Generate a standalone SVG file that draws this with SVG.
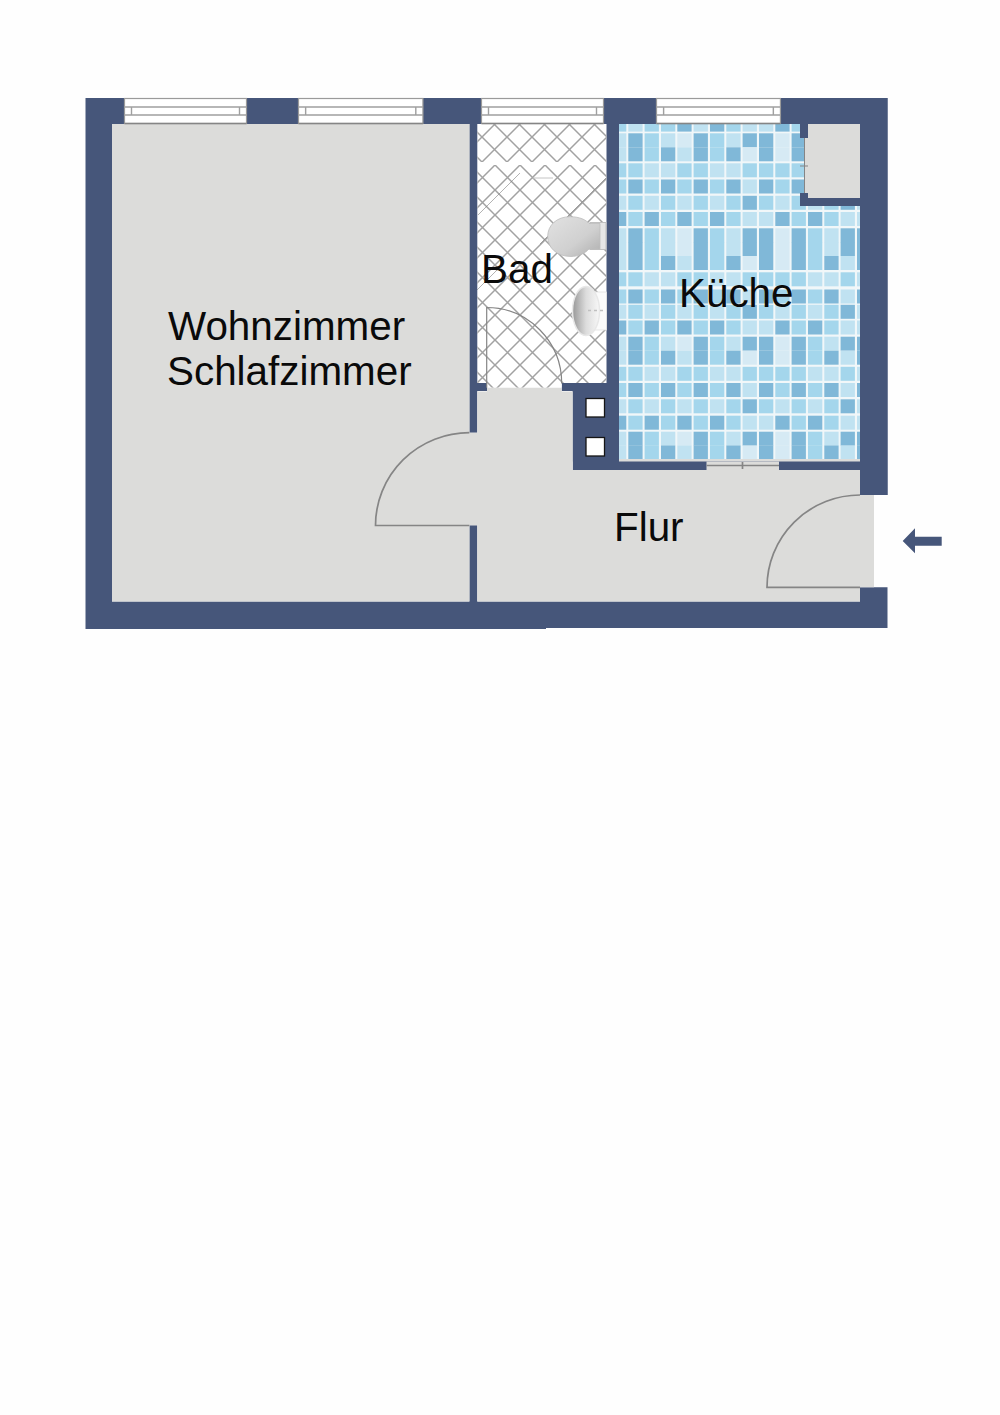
<svg xmlns="http://www.w3.org/2000/svg" width="1000" height="1415" viewBox="0 0 1000 1415">
<style>
.w{fill:#46567a}
.f{fill:#dcdcda}
.door{fill:none;stroke:#858585;stroke-width:1.7}
.win{fill:#fff;stroke:#9a9a9a;stroke-width:1.2}
.wl{fill:none;stroke:#a0a0a0;stroke-width:1.4}
.lab{font-family:"Liberation Sans",Arial,sans-serif;font-size:40.4px;fill:#0a0a0a}
.D{fill:#80b8d8}.M{fill:#a4d6ec}.L{fill:#c0e2f1}.P{fill:#d6eaf4}
</style>
<defs>
<filter id="soft" x="0" y="0" width="1" height="1"><feGaussianBlur stdDeviation="0.45"/></filter>
<pattern id="ta" patternUnits="userSpaceOnUse" x="532" y="137" width="25" height="25"><path d="M0 0L25 25M25 0L0 25" fill="none" stroke="#a2a2a2" stroke-width="1.5"/></pattern>
<pattern id="tb" patternUnits="userSpaceOnUse" x="520" y="165" width="25" height="25"><path d="M0 0L25 25M25 0L0 25" fill="none" stroke="#a2a2a2" stroke-width="1.5"/></pattern>
<linearGradient id="bowl" x1="0" y1="0" x2="1" y2="1"><stop offset="0" stop-color="#e2e2e2"/><stop offset=".6" stop-color="#d0d0d0"/><stop offset="1" stop-color="#aeaeae"/></linearGradient>
<linearGradient id="basin" x1="0" y1="0" x2="1" y2="0"><stop offset="0" stop-color="#989898"/><stop offset=".5" stop-color="#dcdcdc"/><stop offset="1" stop-color="#f8f8f8"/></linearGradient>
<clipPath id="kc"><path d="M619 124H800V138H805V193H800V206H860V459H619Z"/></clipPath>
<g id="win"><rect class="win" x="0" y="0.5" width="122" height="25"/><path class="wl" d="M0 9H122M0 17H122M7 9V17M115 9V17"/><path d="M0 25.5H122" stroke="#858585" stroke-width="1.4"/></g>
<g id="rA"><rect class="L" x="612" width="14.3" height="14"/><rect class="D" x="628.3" width="14.3" height="14"/><rect class="M" x="644.6" width="14.3" height="14"/><rect class="L" x="661" width="14.3" height="14"/><rect class="P" x="677.3" width="14.3" height="14"/><rect class="D" x="693.6" width="14.3" height="14"/><rect class="M" x="710" width="14.3" height="14"/><rect class="L" x="726.3" width="14.3" height="14"/><rect class="D" x="742.6" width="14.3" height="14"/><rect class="D" x="759" width="14.3" height="14"/><rect class="P" x="775.3" width="14.3" height="14"/><rect class="D" x="791.6" width="14.3" height="14"/><rect class="M" x="808" width="14.3" height="14"/><rect class="L" x="824.3" width="14.3" height="14"/><rect class="D" x="840.6" width="14.3" height="14"/><rect class="D" x="857" width="14.3" height="14"/></g>
<g id="rB"><rect class="L" x="612" width="14.3" height="14"/><rect class="D" x="628.3" width="14.3" height="14"/><rect class="M" x="644.6" width="14.3" height="14"/><rect class="D" x="661" width="14.3" height="14"/><rect class="L" x="677.3" width="14.3" height="14"/><rect class="D" x="693.6" width="14.3" height="14"/><rect class="M" x="710" width="14.3" height="14"/><rect class="D" x="726.3" width="14.3" height="14"/><rect class="P" x="742.6" width="14.3" height="14"/><rect class="D" x="759" width="14.3" height="14"/><rect class="P" x="775.3" width="14.3" height="14"/><rect class="D" x="791.6" width="14.3" height="14"/><rect class="M" x="808" width="14.3" height="14"/><rect class="D" x="824.3" width="14.3" height="14"/><rect class="L" x="840.6" width="14.3" height="14"/><rect class="D" x="857" width="14.3" height="14"/></g>
<g id="rC"><rect class="M" x="612" width="14.3" height="14"/><rect class="M" x="628.3" width="14.3" height="14"/><rect class="L" x="644.6" width="14.3" height="14"/><rect class="L" x="661" width="14.3" height="14"/><rect class="M" x="677.3" width="14.3" height="14"/><rect class="M" x="693.6" width="14.3" height="14"/><rect class="L" x="710" width="14.3" height="14"/><rect class="L" x="726.3" width="14.3" height="14"/><rect class="M" x="742.6" width="14.3" height="14"/><rect class="M" x="759" width="14.3" height="14"/><rect class="M" x="775.3" width="14.3" height="14"/><rect class="M" x="791.6" width="14.3" height="14"/><rect class="L" x="808" width="14.3" height="14"/><rect class="L" x="824.3" width="14.3" height="14"/><rect class="M" x="840.6" width="14.3" height="14"/><rect class="L" x="857" width="14.3" height="14"/></g>
<g id="rD"><rect class="M" x="612" width="14.3" height="14"/><rect class="D" x="628.3" width="14.3" height="14"/><rect class="M" x="644.6" width="14.3" height="14"/><rect class="D" x="661" width="14.3" height="14"/><rect class="M" x="677.3" width="14.3" height="14"/><rect class="D" x="693.6" width="14.3" height="14"/><rect class="M" x="710" width="14.3" height="14"/><rect class="D" x="726.3" width="14.3" height="14"/><rect class="L" x="742.6" width="14.3" height="14"/><rect class="D" x="759" width="14.3" height="14"/><rect class="M" x="775.3" width="14.3" height="14"/><rect class="D" x="791.6" width="14.3" height="14"/><rect class="M" x="808" width="14.3" height="14"/><rect class="D" x="824.3" width="14.3" height="14"/><rect class="L" x="840.6" width="14.3" height="14"/><rect class="D" x="857" width="14.3" height="14"/></g>
<g id="rE"><rect class="L" x="612" width="14.3" height="14"/><rect class="M" x="628.3" width="14.3" height="14"/><rect class="L" x="644.6" width="14.3" height="14"/><rect class="M" x="661" width="14.3" height="14"/><rect class="L" x="677.3" width="14.3" height="14"/><rect class="M" x="693.6" width="14.3" height="14"/><rect class="L" x="710" width="14.3" height="14"/><rect class="M" x="726.3" width="14.3" height="14"/><rect class="D" x="742.6" width="14.3" height="14"/><rect class="M" x="759" width="14.3" height="14"/><rect class="L" x="775.3" width="14.3" height="14"/><rect class="M" x="791.6" width="14.3" height="14"/><rect class="L" x="808" width="14.3" height="14"/><rect class="M" x="824.3" width="14.3" height="14"/><rect class="D" x="840.6" width="14.3" height="14"/><rect class="L" x="857" width="14.3" height="14"/></g>
<g id="rF"><rect class="D" x="612" width="14.3" height="14"/><rect class="M" x="628.3" width="14.3" height="14"/><rect class="D" x="644.6" width="14.3" height="14"/><rect class="M" x="661" width="14.3" height="14"/><rect class="D" x="677.3" width="14.3" height="14"/><rect class="M" x="693.6" width="14.3" height="14"/><rect class="D" x="710" width="14.3" height="14"/><rect class="M" x="726.3" width="14.3" height="14"/><rect class="L" x="742.6" width="14.3" height="14"/><rect class="L" x="759" width="14.3" height="14"/><rect class="D" x="775.3" width="14.3" height="14"/><rect class="M" x="791.6" width="14.3" height="14"/><rect class="D" x="808" width="14.3" height="14"/><rect class="M" x="824.3" width="14.3" height="14"/><rect class="L" x="840.6" width="14.3" height="14"/><rect class="L" x="857" width="14.3" height="14"/></g>
</defs>
<rect width="1000" height="1415" fill="#fefefe"/>
<g id="walls">
<path class="w" d="M85.5 98H887.5V495H860V470H619V461.5H572.7V391H561.7V383H487V391H477.3V432.7H469.4V124H112V601.5H469.4V525.3H477.3V601.5H860V587.3H887.5V628H546V629H85.5Z"/>
<rect class="w" x="469" y="98" width="150" height="26"/>
<rect class="w" x="572.7" y="383" width="46.3" height="87"/>
<rect class="w" x="606.5" y="98" width="12.5" height="290"/>
<rect class="w" x="860" y="98" width="27.5" height="397"/>
</g>
<g id="rooms">
<rect id="wohnzimmer" class="f" x="112" y="124" width="357.4" height="477.5"/>
<g id="bad">
<path fill="#fff" d="M477.3 124H606.5V383H561.7V387.7H487V383H477.3Z"/>
<rect x="477.3" y="124" width="129.2" height="38" fill="url(#ta)"/>
<rect x="477.3" y="165" width="129.2" height="218" fill="url(#tb)"/>
<rect x="487" y="383" width="74.7" height="4.7" fill="url(#tb)"/>
<path d="M478 215L520 173M540 244L606 178M477 290L500 267" fill="none" stroke="#7f7f7f" stroke-width="1" opacity=".6"/>
<path d="M533 178H553" stroke="#c4c4c4" stroke-width="1"/>
<g id="wc">
<rect x="590" y="222.500" width="16" height="27" fill="#e6e6e6" stroke="#c0c0c0" stroke-width="1"/>
<path d="M570 216.700C580 216.700 586 220 589 223.500H600V249H589C585 253.500 578 256.500 571 256.500C557 256.500 547.700 248 547.700 236.500C547.700 225 557 216.700 570 216.700Z" fill="url(#bowl)" stroke="#bdbdbd" stroke-width=".8"/>
</g>
<g id="basin-unit">
<rect x="592" y="292" width="14.500" height="38" fill="#fbfbfb" stroke="#e2e2e2" stroke-width=".8"/>
<ellipse cx="586" cy="311" rx="13.500" ry="24.500" fill="url(#basin)" stroke="#e8e8e8" stroke-width="1.500"/>
<path d="M588 310.500H605" stroke="#c0c0c0" stroke-width="1.500" stroke-dasharray="3 3"/>
</g>
</g>
<g id="kueche">
<g clip-path="url(#kc)">
<g filter="url(#soft)">
<rect x="612" y="118" width="255" height="345" fill="#f1f7f9"/>
<g><rect class="M" x="612" y="118" width="14.300" height="13.600"/><rect class="L" x="628.300" y="118" width="14.300" height="13.600"/><rect class="M" x="644.600" y="118" width="14.300" height="13.600"/><rect class="M" x="661" y="118" width="14.300" height="13.600"/><rect class="D" x="677.300" y="118" width="14.300" height="13.600"/><rect class="L" x="693.600" y="118" width="14.300" height="13.600"/><rect class="D" x="710" y="118" width="14.300" height="13.600"/><rect class="M" x="726.300" y="118" width="14.300" height="13.600"/><rect class="L" x="742.600" y="118" width="14.300" height="13.600"/><rect class="L" x="759" y="118" width="14.300" height="13.600"/><rect class="D" x="775.300" y="118" width="14.300" height="13.600"/><rect class="M" x="791.600" y="118" width="14.300" height="13.600"/></g>
<use href="#rA" y="133.300"/><use href="#rB" y="147.300"/><use href="#rC" y="163.300"/><use href="#rD" y="179.500"/><use href="#rE" y="195.800"/><use href="#rF" y="212"/><use href="#rA" y="228.300"/><use href="#rA" y="242"/><use href="#rB" y="256"/><use href="#rC" y="272.300"/><use href="#rD" y="289.500"/><use href="#rE" y="304.800"/><use href="#rF" y="320.500"/><use href="#rA" y="336.700"/><use href="#rB" y="350.700"/><use href="#rC" y="366.800"/><use href="#rD" y="383"/><use href="#rE" y="399.300"/><use href="#rF" y="415.700"/><use href="#rA" y="431.700"/><use href="#rB" y="445.500"/>
</g>
</g>
<rect class="f" x="619" y="459" width="241" height="2.500"/>
</g>
<path id="abstell" class="f" d="M808 124H860V198H808V193H805V138H808Z"/>
<path id="flur" class="f" d="M477.3 391.500H487V387.700H561.700V391.500H572.700V470H706.500V461.500H779V470H860V495H874V587.300H860V601.500H477.300Z"/>
<rect class="f" x="469" y="432.700" width="9" height="92.600"/>
</g>
<g id="shafts" fill="#fff" stroke="#151515" stroke-width="1.300">
<rect x="586" y="398.500" width="18.500" height="18.500"/>
<rect x="586" y="437.500" width="18.500" height="18.500"/>
</g>
<g id="windows">
<use href="#win" x="124.500" y="98"/>
<use href="#win" transform="translate(298.500 98) scale(1.020 1)"/>
<use href="#win" x="481.500" y="98"/>
<use href="#win" transform="translate(656.500 98) scale(1.016 1)"/>
</g>
<g id="doors">
<path class="door" d="M469.400 432.700A94 92.800 0 0 0 375.500 525.500H469.400"/>
<path class="door" d="M860 495A93 92.300 0 0 0 767 587.300H860"/>
<path class="door" style="stroke-width:1.200" d="M486.700 387.700V307.500A75 76 0 0 1 561.700 383.500"/>
<path class="door" d="M706.500 465.500H779M742.500 462V469"/>
<path class="door" style="stroke-width:1" d="M800 166H808M804.500 138V193"/>
</g>
<path id="entrance-arrow" class="w" d="M902.700 541L915 528.300V536.700H941.700V545.700H915V553.300Z"/>
<g id="labels">
<text class="lab" x="168" y="340">Wohnzimmer</text>
<text class="lab" x="167" y="385">Schlafzimmer</text>
<text class="lab" x="481" y="283">Bad</text>
<text class="lab" x="679" y="307">Küche</text>
<text class="lab" x="614" y="541">Flur</text>
</g>
</svg>
